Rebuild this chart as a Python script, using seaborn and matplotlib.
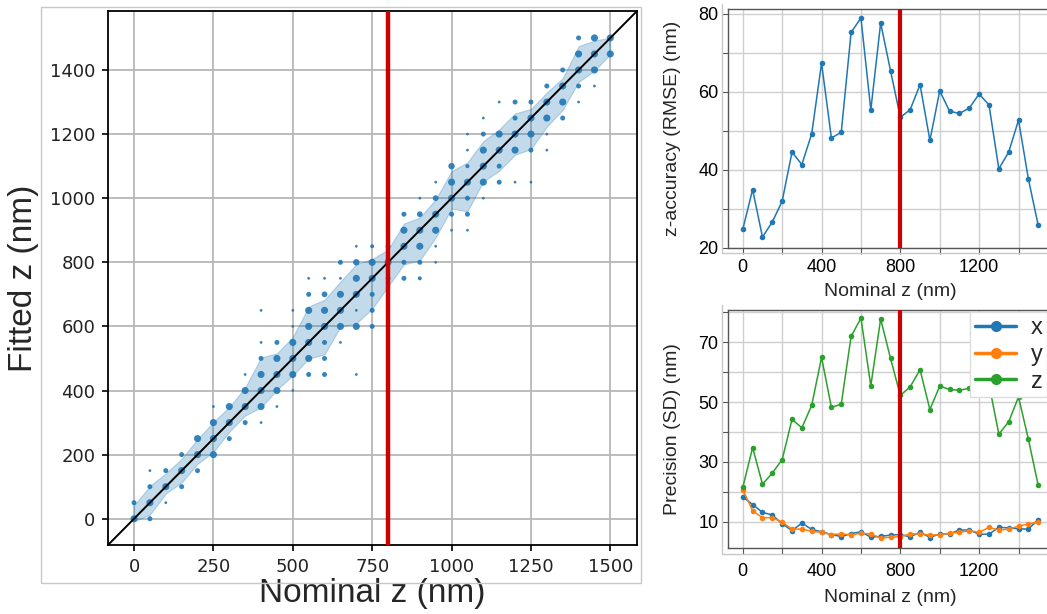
import numpy as np
import pandas as pd
import matplotlib
matplotlib.use("Agg")
import matplotlib.pyplot as plt
import seaborn as sns
from matplotlib.ticker import MultipleLocator, FixedLocator
from matplotlib.patches import Rectangle
from matplotlib.lines import Line2D

# ---------------- data ----------------
# left panel: localisations (nominal z, fitted z, number of localisations)
pts_nominal = ([0]*2 + [50]*4 + [100]*3 + [150]*3 + [200]*3 + [250]*4 + [300]*3 + [350]*4
               + [400]*7 + [450]*5 + [500]*6 + [550]*7 + [600]*7 + [650]*6 + [700]*7 + [750]*6
               + [800]*5 + [850]*5 + [900]*6 + [950]*6 + [1000]*5 + [1050]*7 + [1100]*6 + [1150]*5
               + [1200]*5 + [1250]*5 + [1300]*5 + [1350]*4 + [1400]*5 + [1450]*4 + [1500]*2)
pts_fitted = [0, 50,
              0, 50, 100, 150,
              50, 100, 150,
              100, 150, 200,
              150, 200, 250,
              200, 250, 300, 350,
              250, 300, 350,
              300, 350, 400, 450,
              300, 350, 400, 450, 500, 550, 650,
              350, 400, 450, 500, 550,
              400, 450, 500, 550, 600, 650,
              450, 500, 550, 600, 650, 700, 750,
              450, 500, 550, 600, 650, 700, 750,
              550, 600, 650, 700, 750, 800,
              450, 600, 650, 700, 750, 800, 850,
              600, 650, 700, 750, 800, 850,
              650, 700, 750, 800, 850,
              750, 800, 850, 900, 950,
              750, 800, 850, 900, 950, 1000,
              800, 850, 900, 950, 1000, 1050,
              900, 950, 1000, 1050, 1100,
              900, 950, 1000, 1050, 1100, 1150, 1200,
              1000, 1050, 1100, 1150, 1200, 1250,
              1050, 1100, 1150, 1200, 1300,
              1050, 1150, 1200, 1250, 1300,
              1050, 1150, 1200, 1250, 1300,
              1150, 1200, 1250, 1300, 1350,
              1250, 1300, 1350, 1400,
              1300, 1350, 1400, 1450, 1500,
              1350, 1400, 1450, 1500,
              1450, 1500]
pts_count = [6, 3,
             3, 6, 3, 1,
             1, 6, 3,
             3, 6, 3,
             3, 6, 6,
             6, 6, 6, 1,
             3, 6, 6,
             3, 6, 6, 1,
             1, 6, 6, 6, 3, 1, 1,
             1, 6, 6, 6, 3,
             1, 6, 6, 6, 1, 1,
             3, 6, 6, 6, 6, 3, 1,
             3, 3, 3, 6, 6, 4, 1,
             1, 6, 6, 6, 1, 3,
             1, 6, 1, 6, 6, 5, 1,
             3, 3, 3, 6, 6, 2,
             1, 1, 3, 6, 3,
             3, 3, 6, 6, 3,
             2, 3, 6, 6, 4, 1,
             1, 1, 6, 6, 4, 1,
             1, 3, 6, 6, 5,
             1, 3, 3, 6, 2, 1, 1,
             1, 6, 6, 6, 3, 1,
             3, 3, 6, 6, 1,
             1, 6, 6, 3, 3,
             1, 3, 6, 6, 3,
             1, 1, 6, 6, 3,
             3, 6, 6, 3,
             1, 3, 6, 6, 3,
             1, 6, 6, 6,
             6, 6]

# right panels
nominal = list(range(0, 1501, 50))
rmse_z = [24.7, 34.9, 22.7, 26.6, 31.9, 44.5, 41.3, 49.2, 67.3, 48.1, 49.6, 75.2, 78.9, 55.3,
          77.6, 65.4, 53.4, 55.4, 61.8, 47.5, 60.2, 55.0, 54.4, 55.8, 59.4, 56.6, 40.2, 44.5,
          52.7, 37.6, 25.7]
sd_x = [18.4, 15.8, 13.2, 12.3, 9.4, 7.1, 9.6, 7.5, 6.7, 5.8, 5.1, 6.1, 6.7, 4.9, 5.2, 5.6,
        5.8, 5.0, 6.6, 4.8, 6.0, 6.0, 7.3, 7.3, 5.9, 5.9, 8.2, 8.0, 7.7, 7.6, 10.8]
sd_y = [20.8, 13.7, 11.4, 11.4, 9.9, 7.6, 7.6, 6.9, 6.5, 5.8, 6.0, 5.7, 6.2, 6.0, 4.6, 4.9,
        5.1, 6.0, 6.0, 5.6, 5.7, 6.3, 6.5, 7.1, 6.5, 8.2, 7.3, 7.6, 8.6, 9.3, 10.0]
sd_z = [21.5, 34.8, 22.6, 26.3, 30.8, 44.2, 41.4, 48.9, 64.9, 48.2, 49.3, 71.9, 78.0, 55.4,
        77.7, 64.6, 52.2, 55.1, 60.8, 47.5, 55.3, 54.2, 53.9, 54.6, 58.0, 56.0, 39.3, 43.4,
        51.7, 37.6, 22.2]
threshold = 800

# ---------------- figure ----------------
sns.set_theme(style="whitegrid")
plt.rcParams["font.family"] = ["DejaVu Sans"]

W, H = 1047, 614
fig = plt.figure(figsize=(W / 100, H / 100), dpi=100)
fig.patch.set_facecolor("white")


def box(l, t, r, b):
    return [l / W, 1 - b / H, (r - l) / W, (b - t) / H]


blue = "#1f77b4"
red = "#cc0000"

# ---- left panel ----
ax = fig.add_axes(box(108, 11, 637, 545))
ax.set_facecolor("white")
pts = pd.DataFrame({"nominal": pts_nominal, "fitted": pts_fitted, "count": pts_count})
expanded = pts.loc[pts.index.repeat(pts["count"])]
sns.lineplot(data=expanded, x="nominal", y="fitted", errorbar="sd", estimator="mean",
             color=blue, linewidth=0, err_kws={"alpha": 0.27, "linewidth": 0.8}, ax=ax)
sns.scatterplot(data=pts, x="nominal", y="fitted", size="count", sizes=(4, 26),
                color=blue, linewidth=0, alpha=0.9, legend=False, ax=ax, zorder=3)
lims = (-82, 1584)
ax.plot(lims, lims, color="black", lw=1.4, zorder=4)
ax.axvline(threshold, color=red, lw=3.2, zorder=5)
ax.set_xlim(lims)
ax.set_ylim(lims)
ax.xaxis.set_major_locator(MultipleLocator(250))
ax.yaxis.set_major_locator(MultipleLocator(200))
ax.grid(True, color="#b8b8b8", lw=1.3)
for s in ax.spines.values():
    s.set_color("black")
    s.set_linewidth(1.3)
ax.tick_params(axis="both", which="major", direction="out", length=4, width=1.2,
               colors="black", labelsize=13, left=True, bottom=True, pad=5)
for t in ax.get_xticklabels() + ax.get_yticklabels():
    t.set_color("#222222")
ax.set_xlabel("Nominal z (nm)", fontsize=24, family="Liberation Sans", labelpad=2)
ax.set_ylabel("Fitted z (nm)", fontsize=24, family="Liberation Sans", labelpad=8)

# ---- right panels ----
xlims = (-75, 1575)


def style_right(a, tickpad, xlabelpad):
    a.set_facecolor("white")
    a.set_xlim(xlims)
    a.xaxis.set_major_locator(FixedLocator([0, 400, 800, 1200]))
    a.xaxis.set_minor_locator(MultipleLocator(200))
    a.grid(True, which="both", color="#cfcfcf", lw=1.0)
    for s in a.spines.values():
        s.set_color("#555555")
        s.set_linewidth(1.0)
    a.tick_params(axis="both", which="both", direction="out", length=4, width=0.8,
                  colors="#555555", left=True, bottom=True)
    a.tick_params(axis="both", which="major", labelsize=13, labelcolor="black", pad=3)
    a.tick_params(axis="x", which="major", pad=tickpad)
    for t in a.get_xticklabels() + a.get_yticklabels():
        t.set_family("Liberation Sans")
    a.set_xlabel("Nominal z (nm)", fontsize=14, family="Liberation Sans", labelpad=xlabelpad)
    a.axvline(threshold, color=red, lw=3.0, zorder=5)


ax1 = fig.add_axes(box(728, 9, 1053, 248))
sns.lineplot(x=nominal, y=rmse_z, color=blue, marker="o", markersize=4,
             markeredgewidth=0, lw=1.1, ax=ax1)
ax1.set_ylim(19.9, 81.2)
ax1.yaxis.set_major_locator(FixedLocator([20, 40, 60, 80]))
ax1.yaxis.set_minor_locator(MultipleLocator(10))
style_right(ax1, 4, 5)
ax1.set_ylabel("z-accuracy (RMSE) (nm)", fontsize=14, family="Liberation Sans", labelpad=12)

ax2 = fig.add_axes(box(728, 310, 1053, 548))
prec = pd.DataFrame({"nominal": nominal * 3,
                     "sd": sd_x + sd_y + sd_z,
                     "axis": ["x"] * len(sd_x) + ["y"] * len(sd_y) + ["z"] * len(sd_z)})
sns.lineplot(data=prec, x="nominal", y="sd", hue="axis",
             palette=["#1f77b4", "#ff7f0e", "#2ca02c"], marker="o", markersize=4,
             markeredgewidth=0, lw=1.1, ax=ax2, legend=False)
ax2.set_ylim(1.3, 80.7)
ax2.yaxis.set_major_locator(FixedLocator([10, 30, 50, 70]))
ax2.yaxis.set_minor_locator(MultipleLocator(10))
style_right(ax2, 7, 6)
ax2.set_ylabel("Precision (SD) (nm)", fontsize=14, family="Liberation Sans", labelpad=12)
handles = [Line2D([], [], color=c, marker="o", markersize=7, lw=2.5)
           for c in ["#1f77b4", "#ff7f0e", "#2ca02c"]]
leg = ax2.legend(handles, ["x", "y", "z"], loc="upper left", fontsize=17,
                 bbox_to_anchor=((968 - 728) / 325, 1.0),
                 handlelength=1.75, framealpha=1, edgecolor="#dddddd", fancybox=False,
                 borderpad=0.2, labelspacing=0.2, handletextpad=0.6, borderaxespad=0.1)
leg.set_zorder(10)
for t in leg.get_texts():
    t.set_family("Liberation Sans")

# ---- panel borders (screenshot frames) ----
fig.add_artist(Rectangle((41 / W, 1 - 583 / H), (641 - 41) / W, (583 - 7) / H,
                         transform=fig.transFigure, fill=False, ec="#c8c8c8", lw=1.0))
fig.add_artist(Line2D([722 / W, 722 / W, 1.0], [1 - 4 / H, 1 - 253 / H, 1 - 253 / H],
                      transform=fig.transFigure, color="#c8c8c8", lw=1.0))
fig.add_artist(Line2D([722 / W, 722 / W, 1.0], [1 - 305 / H, 1 - 554 / H, 1 - 554 / H],
                      transform=fig.transFigure, color="#c8c8c8", lw=1.0))

fig.savefig("out.png", dpi=100, facecolor="white")
